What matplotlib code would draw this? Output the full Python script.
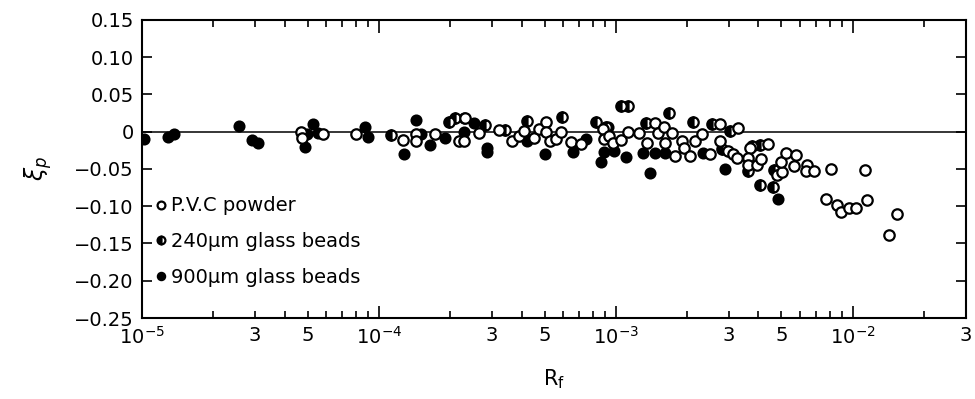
import matplotlib
matplotlib.use("Agg")
import matplotlib.pyplot as plt
from matplotlib.ticker import FixedLocator, FixedFormatter

# P.V.C powder (open circles)
pvc_r = [4.67e-5, 4.72e-5, 5.83e-5, 8.01e-5, 1.26e-4, 1.43e-4, 1.43e-4, 1.72e-4,
         2.18e-4, 2.31e-4, 2.29e-4, 2.65e-4, 3.21e-4, 3.64e-4, 3.89e-4, 4.08e-4,
         4.50e-4, 4.72e-4, 5.09e-4, 5.09e-4, 5.25e-4, 5.61e-4, 5.89e-4, 6.48e-4,
         7.14e-4, 8.83e-4, 8.91e-4, 9.35e-4, 9.71e-4, 1.05e-3, 1.13e-3, 1.25e-3,
         1.36e-3, 1.47e-3, 1.50e-3, 1.59e-3, 1.62e-3, 1.73e-3, 1.78e-3, 1.91e-3,
         1.93e-3, 2.06e-3, 2.16e-3, 2.31e-3, 2.75e-3, 2.50e-3, 2.75e-3, 3.27e-3,
         2.97e-3, 3.12e-3, 3.67e-3, 3.24e-3, 3.60e-3, 3.60e-3, 4.37e-3, 3.96e-3,
         4.08e-3, 4.81e-3, 5.05e-3, 5.00e-3, 5.25e-3, 5.78e-3, 5.66e-3, 6.42e-3,
         6.36e-3, 6.87e-3, 8.09e-3, 1.13e-2, 7.71e-3, 8.57e-3, 8.91e-3, 9.62e-3,
         1.03e-2, 1.15e-2, 1.53e-2, 1.42e-2]
pvc_e = [-0.001, -0.008, -0.003, -0.0035, -0.011, -0.003, -0.012, -0.0035,
         -0.013, 0.019, -0.012, -0.0015, 0.002, -0.013, -0.006, 0.0005,
         -0.009, 0.004, 0.0135, 0.0, -0.012, -0.0095, 0.0, -0.014,
         -0.0165, 0.003, -0.010, -0.006, -0.0145, -0.0105, 0.0, -0.0015,
         -0.015, 0.012, -0.0015, 0.006, -0.015, -0.002, -0.032, -0.012,
         -0.022, -0.032, -0.012, -0.0025, 0.011, -0.030, -0.012, 0.005,
         -0.026, -0.030, -0.022, -0.035, -0.035, -0.044, -0.017, -0.044,
         -0.037, -0.058, -0.054, -0.040, -0.029, -0.031, -0.046, -0.045,
         -0.053, -0.053, -0.050, -0.052, -0.090, -0.099, -0.108, -0.103,
         -0.102, -0.092, -0.110, -0.138]

# 240 um glass beads (half filled circles)
g240_r = [1.12e-4, 1.98e-4, 2.10e-4, 2.80e-4, 3.40e-4, 4.20e-4, 5.94e-4, 8.24e-4,
          9.08e-4, 1.05e-3, 1.13e-3, 1.67e-3, 1.34e-3, 2.12e-3, 2.54e-3, 2.80e-3,
          3.03e-3, 3.60e-3, 3.74e-3, 4.04e-3, 4.67e-3, 4.04e-3, 4.62e-3]
g240_e = [-0.004, 0.0125, 0.019, 0.009, 0.002, 0.014, 0.020, 0.013,
          0.007, 0.034, 0.034, 0.025, 0.012, 0.0125, 0.011, -0.023,
          0.001, -0.053, -0.0195, -0.018, -0.051, -0.072, -0.074]

# 900 um glass beads (filled circles)
g900_r = [1.02e-5, 1.29e-5, 1.37e-5, 2.57e-5, 2.91e-5, 3.09e-5, 4.86e-5, 4.95e-5,
          5.29e-5, 5.56e-5, 8.74e-5, 9.0e-5, 1.28e-4, 1.43e-4, 1.50e-4, 1.65e-4,
          1.91e-4, 2.29e-4, 2.29e-4, 2.52e-4, 2.86e-4, 2.86e-4, 4.20e-4, 5.00e-4,
          6.61e-4, 7.48e-4, 8.65e-4, 9.27e-4, 8.91e-4, 9.81e-4, 1.10e-3, 1.30e-3,
          1.40e-3, 1.47e-3, 1.62e-3, 2.33e-3, 2.89e-3, 4.85e-3]
g900_e = [-0.0095, -0.007, -0.003, 0.008, -0.011, -0.015, -0.020, -0.003,
          0.011, -0.002, 0.007, -0.0065, -0.030, 0.016, -0.003, -0.018,
          -0.008, 0.019, -0.001, 0.012, -0.022, -0.027, -0.013, -0.030,
          -0.027, -0.010, -0.040, 0.007, -0.027, -0.026, -0.034, -0.028,
          -0.056, -0.029, -0.029, -0.028, -0.050, -0.090]

# axis ticks
y_ticks = [0.15, 0.10, 0.05, 0, -0.05, -0.10, -0.15, -0.20, -0.25]
y_labels = ['0.15', '0.10', '0.05', '0', '\u22120.05', '\u22120.10',
            '\u22120.15', '\u22120.20', '\u22120.25']
x_major = [1e-5, 1e-4, 1e-3, 1e-2]
x_major_labels = ['$10^{-5}$', '$10^{-4}$', '$10^{-3}$', '$10^{-2}$']
x_minor = [m * d for d in [1e-5, 1e-4, 1e-3] for m in range(2, 10)] + [2e-2, 3e-2]
x_minor_labels = ['', '3', '', '5', '', '', '', '',
                  '', '3', '', '5', '', '', '', '',
                  '', '3', '', '5', '', '', '', '',
                  '', '3']

fig = plt.figure(figsize=(9.75, 3.99), dpi=100)
ax = fig.add_axes([0.1456, 0.203, 0.845, 0.747])

ax.axhline(0, color='black', lw=1.1, zorder=1)

ax.plot(g900_r, g900_e, 'o', ms=7.5, mfc='black', mec='black', mew=1.2,
        ls='none', label='900\u03bcm glass beads', zorder=3)
ax.plot(g240_r, g240_e, 'o', ms=7.5, fillstyle='left', mfc='black',
        mfcalt='white', mec='black', mew=1.6, ls='none',
        label='240\u03bcm glass beads', zorder=4)
ax.plot(pvc_r, pvc_e, 'o', ms=7.5, mfc='white', mec='black', mew=1.6,
        ls='none', label='P.V.C powder', zorder=5)

ax.set_xscale('log')
ax.set_xlim(1e-5, 3e-2)
ax.set_ylim(-0.25, 0.15)

ax.xaxis.set_major_locator(FixedLocator(x_major))
ax.xaxis.set_major_formatter(FixedFormatter(x_major_labels))
ax.xaxis.set_minor_locator(FixedLocator(x_minor))
ax.xaxis.set_minor_formatter(FixedFormatter(x_minor_labels))
ax.set_yticks(y_ticks)
ax.set_yticklabels(y_labels)

ax.tick_params(axis='both', which='both', direction='in', top=True, right=True,
               labelsize=14, width=1.2)
ax.tick_params(axis='x', which='major', length=9, pad=6)
ax.tick_params(axis='x', which='minor', length=5, pad=6)
ax.tick_params(axis='y', length=7, pad=6)
for s in ax.spines.values():
    s.set_linewidth(1.5)

ax.set_xlabel('R$_\\mathrm{f}$', fontsize=15, labelpad=14)
ax.set_ylabel('$\\xi_p$', fontsize=17, labelpad=14)

h, l = ax.get_legend_handles_labels()
ax.legend(h[::-1], l[::-1], loc='lower left', bbox_to_anchor=(0.0, 0.06),
          frameon=False, fontsize=14, handlelength=0.6, handletextpad=0.2,
          labelspacing=0.85, borderaxespad=0.3, markerscale=0.75)

fig.savefig('out.png', dpi=100)
